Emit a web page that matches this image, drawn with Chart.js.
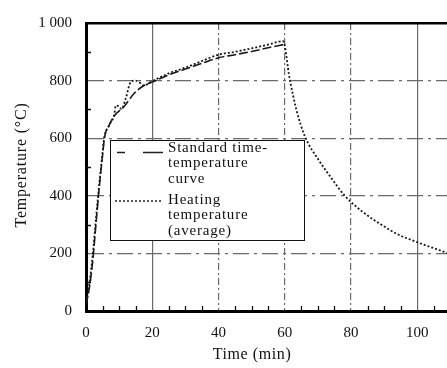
<!DOCTYPE html>
<html>
<head>
<meta charset="utf-8">
<script src="https://cdn.jsdelivr.net/npm/chart.js@4"></script>
<style>
  html, body { margin: 0; padding: 0; background: #fff; overflow: hidden; }
  #wrap { position: relative; width: 447px; height: 368px; font-family: 'Liberation Serif', serif; color: #111; }
  #chart { position: absolute; left: 0; top: 0; }
  .txt { position: absolute; font-size: 15px; line-height: 15.5px; letter-spacing: 0.8px; white-space: nowrap; }
  #legendBox { position: absolute; left: 110px; top: 140px; width: 195px; height: 101px; box-sizing: border-box;
               border: 1.5px solid #111; background: #fff; }
  #xTitle { position: absolute; top: 346px; left: 252px; transform: translateX(-50%); font-size: 16px; line-height: 16px; letter-spacing: 0.6px; white-space: nowrap; }
  #yTitle { position: absolute; left: 21px; top: 165px; transform: translate(-50%, -50%) rotate(-90deg); font-size: 16px; line-height: 16px; letter-spacing: 0.8px; white-space: nowrap; }
</style>
</head>
<body>
<div id="wrap">
  <canvas id="chart" width="447" height="368"></canvas>
  <div id="legendBox"></div>
  <svg width="447" height="368" style="position:absolute;left:0;top:0;pointer-events:none">
    <line x1="117" y1="152.5" x2="163" y2="152.5" stroke="#222" stroke-width="1.6" stroke-dasharray="8 18 20 0"></line>
    <line x1="115" y1="201" x2="162" y2="201" stroke="#222" stroke-width="1.5" stroke-dasharray="2 2"></line>
  </svg>
  <div class="txt" style="left:168px;top:139.5px">Standard time-<br>temperature<br>curve</div>
  <div class="txt" style="left:168px;top:191.5px">Heating<br>temperature<br>(average)</div>
  <div id="xTitle">Time (min)</div>
  <div id="yTitle">Temperature (°C)</div>
</div>
<script>
// Standard time-temperature curve
const timeStd = [0, 1, 2, 3, 4, 5, 5.6, 6.9, 8.5, 11.5, 14.5, 17.5, 20, 25, 30, 35, 40, 45, 50, 55, 60];
const tempStd = [20, 80, 170, 300, 430, 540, 604, 643, 677, 710, 755, 783, 795, 820, 840, 860, 879, 890, 901, 914, 926];

// Heating temperature (average)
const timeHeat = [0, 1, 2, 3, 4, 5, 5.5, 7, 8.5, 9, 10, 10.7, 12, 13.5, 15, 16, 17.5, 19.5, 25, 30, 35, 40, 45, 50, 55, 59.5,
                  61.5, 63.5, 66, 70.5, 74, 78, 84, 89, 94, 100, 105, 110];
const tempHeat = [20, 95, 190, 320, 440, 550, 600, 645, 680, 713, 710, 701, 738, 795, 800, 795, 783, 795, 825, 845, 868, 890, 900, 912, 925, 937,
                  806, 700, 609, 520, 463, 402, 340, 301, 267, 239, 218, 198];

// Axis ticks
const xTicks = [0, 20, 40, 60, 80, 100];
const yTicks = [0, 200, 400, 600, 800, 1000];
const yTickLabels = ['0', '200', '400', '600', '800', '1 000'];
const xMinorTicks = [5, 10, 15, 25, 30, 35, 45, 50, 55, 65, 70, 75, 85, 90, 95, 105];
const yMinorTicks = [100, 300, 500, 700, 900];

function toPoints(xs, ys) {
    return xs.map((x, i) => ({ x: x, y: ys[i] }));
}

// small inward tick marks on the axes
const innerTicks = {
    id: 'innerTicks',
    afterDatasetsDraw(chart) {
        const ctx = chart.ctx;
        const xs = chart.scales.x, ys = chart.scales.y;
        const area = chart.chartArea;
        ctx.save();
        ctx.strokeStyle = '#111';
        ctx.lineWidth = 1.3;
        ctx.beginPath();
        xMinorTicks.forEach(v => {
            const px = Math.round(xs.getPixelForValue(v)) + 0.5;
            ctx.moveTo(px, area.bottom);
            ctx.lineTo(px, area.bottom - 5);
        });
        yMinorTicks.forEach(v => {
            const py = Math.round(ys.getPixelForValue(v)) + 0.5;
            ctx.moveTo(area.left, py);
            ctx.lineTo(area.left + 5, py);
        });
        ctx.stroke();
        ctx.restore();
    }
};

const tickFont = { family: "'Liberation Serif', serif", size: 15 };

new Chart(document.getElementById('chart').getContext('2d'), {
    type: 'line',
    data: {
        datasets: [{
            label: 'Standard time-temperature curve',
            data: toPoints(timeStd, tempStd),
            borderColor: '#1a1a1a',
            borderWidth: 1.6,
            borderDash: [9, 3],
            pointRadius: 0,
            cubicInterpolationMode: 'monotone',
            fill: false,
        }, {
            label: 'Heating temperature (average)',
            data: toPoints(timeHeat, tempHeat),
            borderColor: '#1a1a1a',
            borderWidth: 1.8,
            borderDash: [2, 2],
            pointRadius: 0,
            cubicInterpolationMode: 'monotone',
            fill: false,
        }]
    },
    options: {
        responsive: false,
        animation: false,
        layout: { padding: { top: 14, left: 0, right: 0, bottom: 0 } },
        plugins: {
            legend: { display: false },
            tooltip: { enabled: false }
        },
        scales: {
            x: {
                type: 'linear',
                min: 0,
                max: 109,
                afterBuildTicks: s => { s.ticks = xTicks.map(v => ({ value: v })); },
                afterFit: s => { s.height = 57; },
                ticks: { font: tickFont, color: '#111', padding: 13, maxRotation: 0 },
                grid: {
                    drawTicks: false,
                    color: c => c.tick && c.tick.value === 0 ? 'rgba(0,0,0,0)' : '#6a6a6a',
                    lineWidth: 1.2
                },
                border: {
                    color: '#000',
                    width: 3,
                    dash: c => (c.tick && [40, 60, 80].includes(c.tick.value)) ? [7, 3, 2, 3] : []
                }
            },
            y: {
                min: 0,
                max: 1000,
                afterBuildTicks: s => { s.ticks = yTicks.map(v => ({ value: v })); },
                afterFit: s => { s.width = 86; },
                ticks: {
                    font: tickFont,
                    color: '#111',
                    padding: 14,
                    callback: v => yTickLabels[yTicks.indexOf(v)]
                },
                grid: {
                    drawTicks: false,
                    color: c => {
                        if (!c.tick) return '#6a6a6a';
                        if (c.tick.value === 0) return 'rgba(0,0,0,0)';
                        if (c.tick.value === 1000) return '#000';
                        return '#6a6a6a';
                    },
                    lineWidth: c => (c.tick && c.tick.value === 1000) ? 2.5 : 1.2
                },
                border: {
                    color: '#000',
                    width: 3,
                    dash: c => (c.tick && c.tick.value !== 1000) ? [16, 5, 3, 5] : []
                }
            }
        }
    },
    plugins: [innerTicks]
});
</script>
</body>
</html>
